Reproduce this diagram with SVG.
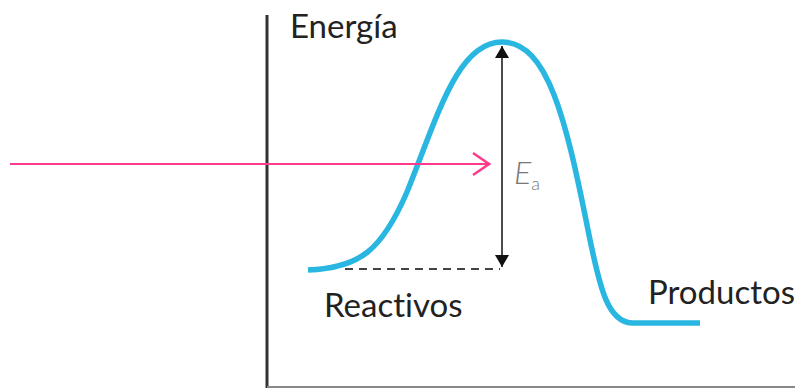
<svg xmlns="http://www.w3.org/2000/svg" width="802" height="388" viewBox="0 0 802 388">
<defs>
<marker id="fh" viewBox="0 0 12 14" refX="12" refY="7" markerWidth="14" markerHeight="14" markerUnits="userSpaceOnUse" orient="auto-start-reverse"><path d="M0,0 L12,7 L0,14 z" fill="#111"/></marker>
<marker id="oh" viewBox="0 0 20 26" refX="18" refY="13" markerWidth="20" markerHeight="26" markerUnits="userSpaceOnUse" orient="auto"><path d="M2,2 L18,13 L2,24" fill="none" stroke="#ff3c8c" stroke-width="2.5"/></marker>
<style>
text{font-variant-ligatures:none}
.lbl{font-family:"Lato","Liberation Sans",sans-serif;fill:#222;font-size:33px}
</style>
</defs>
<rect width="802" height="388" fill="#fff"/>
<g id="axes">
<line x1="267" y1="15" x2="267" y2="388" stroke="#333" stroke-width="3"/>
<line x1="267" y1="387" x2="795" y2="387" stroke="#888" stroke-width="2"/>
</g>
<g id="curve">
<path d="M308,270 C360,268 382,250 407,192 C437,118 457,42 502,42 C548,42 566,120 588,230 C600,290 608,322 632,323 L700,323" fill="none" stroke="#29b6e0" stroke-width="5.5"/>
</g>
<g id="connectors">
<line x1="345" y1="269" x2="500" y2="269" stroke="#444" stroke-width="2" stroke-dasharray="8,6"/>
<line x1="502" y1="46" x2="502" y2="267" stroke="#111" stroke-width="1.5" marker-start="url(#fh)" marker-end="url(#fh)"/>
<line x1="10" y1="164" x2="489" y2="164" stroke="#ff3c8c" stroke-width="2" marker-end="url(#oh)"/>
</g>
<g id="labels">
<text class="lbl" x="290" y="38">Energía</text>
<text class="lbl" x="324" y="317">Reactivos</text>
<text class="lbl" x="648" y="304">Productos</text>
<text x="514" y="184" font-family="Lato,'Liberation Sans',sans-serif" font-style="italic" font-size="32" fill="#777" font-weight="300">E<tspan font-size="18" font-style="normal" dy="6">a</tspan></text>
</g>
</svg>
